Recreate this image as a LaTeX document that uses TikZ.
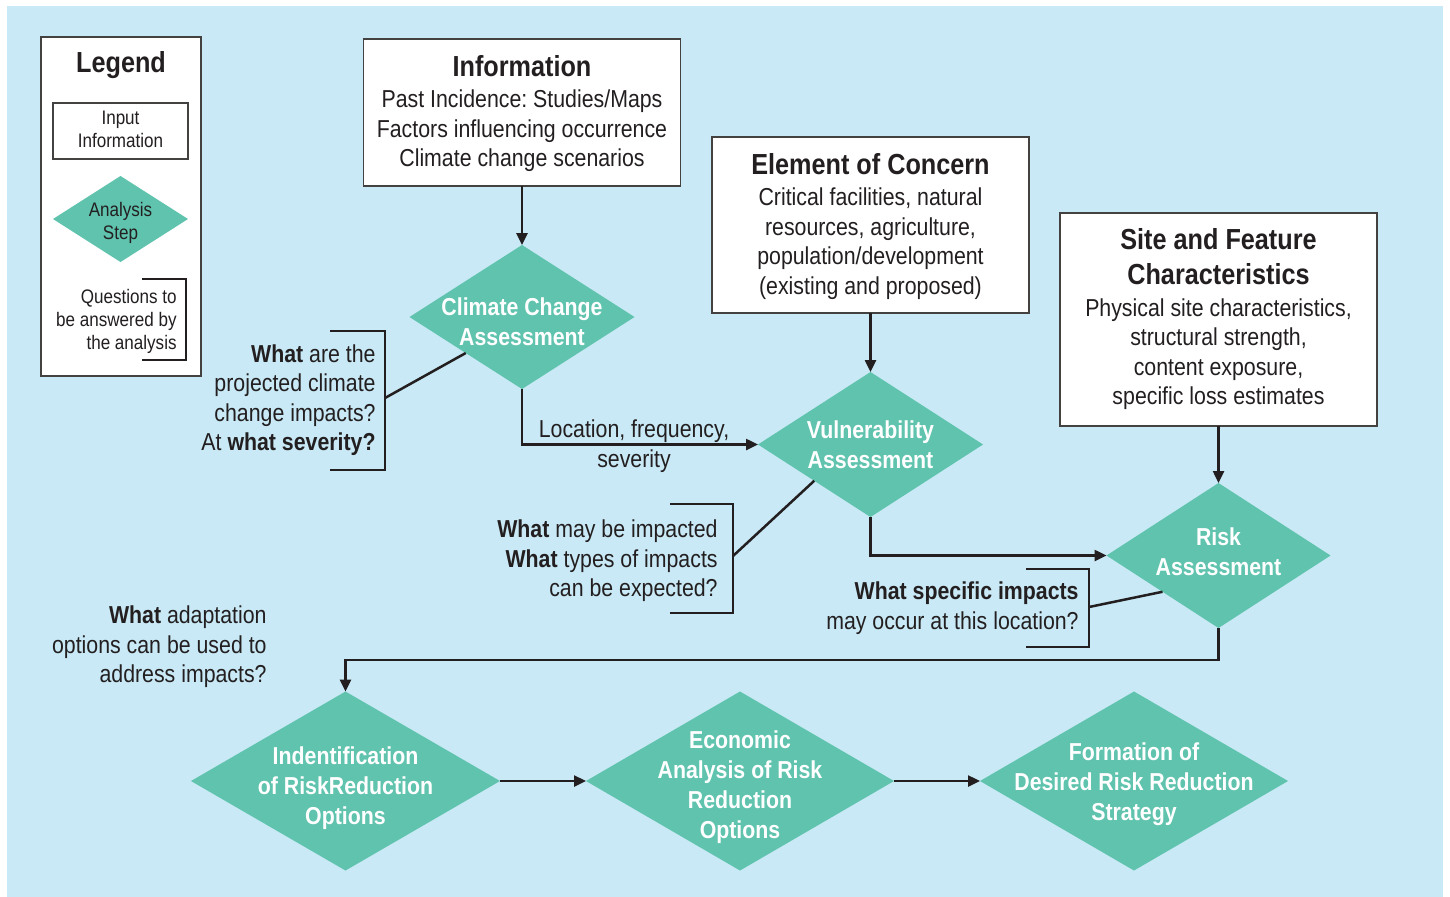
\documentclass[tikz,border=0pt]{standalone}
\usepackage{fontspec}
\setmainfont{Liberation Sans}[FakeStretch=0.87]
\usetikzlibrary{shapes.geometric,arrows.meta,calc}
\definecolor{bgblue}{RGB}{200,233,245}
\definecolor{tealx}{RGB}{95,195,174}
\definecolor{ink}{RGB}{35,31,32}
\frenchspacing
\begin{document}
\begin{tikzpicture}[x=0.5pt,y=-0.5pt,
  inbox/.style={rectangle, draw=ink!85, line width=0.6pt, fill=white, inner sep=0, outer sep=0},
  stepdia/.style={diamond, fill=tealx, inner sep=0, outer sep=0},
  body/.style={font=\fontsize{12.25}{14.75}\selectfont, align=center, inner sep=0, text=ink},
  qtext/.style={font=\fontsize{12.25}{14.75}\selectfont, align=right, inner sep=0, text=ink, anchor=east},
  head/.style={font=\bfseries\fontsize{14.5}{17.5}\selectfont, align=center, inner sep=0, text=ink},
  dtext/.style={text=white, font=\bfseries\fontsize{12.25}{15}\selectfont, align=center, inner sep=0},
  small/.style={font=\fontsize{9.8}{11.5}\selectfont, inner sep=0, text=ink},
  conn/.style={draw=ink, line width=1.25pt},
  arr/.style={conn, -{Triangle[length=6pt,width=5.5pt]}},
  brk/.style={draw=ink, line width=1.25pt}
]
\useasboundingbox (0,0) rectangle (1450,896);
\fill[white] (0,0) rectangle (1450,896);
\fill[bgblue] (7,6) rectangle (1443,904);

% Legend
\node[inbox, minimum width=80pt, minimum height=169.5pt] (legend) at (121,206.5) {};
\node[head] (legtitle) at (121,65) {Legend};
\node[inbox, minimum width=67.5pt, minimum height=28pt] (leginput) at (120.5,131) {};
\node[small, align=center] (leginputt) at (120.5,129) {Input\\Information};
\node[stepdia, minimum width=67.5pt, minimum height=43pt] (legstep) at (120.5,219) {};
\node[small, align=center] (legstept) at (120.5,223) {Analysis\\Step};
\node[small, align=right, anchor=east] (legq) at (177,321) {Questions to\\be answered by\\the analysis};
\draw[draw=ink, line width=0.65pt] (142,279) -| (186,360) -- (142,360);

% Information
\node[inbox, minimum width=158.5pt, minimum height=73.5pt] (info) at (522,112.5) {};
\node[head] (infoh) at (522,66) {Information};
\node[body] (infob) at (522,131) {Past Incidence: Studies/Maps\\Factors influencing occurrence\\Climate change scenarios};

% Climate change assessment
\node[stepdia, minimum width=112.5pt, minimum height=72pt,
  label={[dtext, yshift=-2.5pt]center:Climate Change\\Assessment}] (cca) at (522,317) {};

% Element of concern
\node[inbox, minimum width=158.5pt, minimum height=88pt] (elem) at (870.5,225) {};
\node[head] (elemh) at (870.5,164) {Element of Concern};
\node[body] (elemb) at (870.5,243.5) {Critical facilities, natural\\resources, agriculture,\\population/development\\(existing and proposed)};

% Vulnerability
\node[stepdia, minimum width=112.5pt, minimum height=72.5pt,
  label={[dtext]center:Vulnerability\\Assessment}] (vul) at (870.5,444.5) {};

% Site and feature
\node[inbox, minimum width=158.5pt, minimum height=106.5pt] (site) at (1218.5,319.5) {};
\node[head] (siteh) at (1218.5,257) {Site and Feature\\Characteristics};
\node[body] (siteb) at (1218.5,354) {Physical site characteristics,\\structural strength,\\content exposure,\\specific loss estimates};

% Risk
\node[stepdia, minimum width=112pt, minimum height=72.5pt,
  label={[dtext, yshift=2pt]center:Risk\\Assessment}] (risk) at (1218.5,555.5) {};

% Bottom row
\node[stepdia, minimum width=154.5pt, minimum height=89.5pt,
  label={[dtext, yshift=-3.5pt]center:Indentification\\of RiskReduction\\Options}] (ident) at (345.5,781) {};
\node[stepdia, minimum width=154pt, minimum height=89.5pt,
  label={[dtext, yshift=-3pt]center:Economic\\Analysis of Risk\\Reduction\\Options}] (econ) at (740,781) {};
\node[stepdia, minimum width=154pt, minimum height=89.5pt,
  label={[dtext, yshift=-1.5pt]center:Formation of\\Desired Risk Reduction\\Strategy}] (form) at (1134,781) {};

% Main arrows
\draw[arr] (info.south) -- (cca.north);
\draw[arr] (elem.south) -- (vul.north);
\draw[arr] (site.south) -- (risk.north);
\draw[arr] (cca.south) |- (vul.west);
\draw[arr] (vul.south) |- (risk.west);
\coordinate (turn) at (780,660);
\draw[arr] (risk.south) |- (turn) -| (ident.north);
\draw[arr] (ident.east) -- (econ.west);
\draw[arr] (econ.east) -- (form.west);

% Edge label
\node[body] (loclab) at (634,446) {Location, frequency,\\severity};

% Question 1
\node[qtext] (q1) at (376,400) {{\bfseries What} are the\\projected climate\\change impacts?\\At {\bfseries what severity?}};
\draw[brk] (330,331) -| (385,470) -- (330,470);
\coordinate (q1m) at (385,398);
\draw[conn] (q1m) -- ($(cca.west)!0.5!(cca.south)$);

% Question 2
\node[qtext] (q2) at (718,561) {{\bfseries What} may be impacted\\{\bfseries What} types of impacts\\can be expected?};
\draw[brk] (670,504) -| (733,613) -- (670,613);
\coordinate (q2m) at (733,556);
\draw[conn] (q2m) -- ($(vul.west)!0.5!(vul.south)$);

% Question 3
\node[qtext] (q3) at (1079,608) {{\bfseries What specific impacts}\\may occur at this location?};
\draw[brk] (1026,569) -| (1089,647) -- (1026,647);
\coordinate (q3m) at (1089,607);
\draw[conn] (q3m) -- ($(risk.west)!0.5!(risk.south)$);

% Question 4
\node[qtext] (q4) at (267,647) {{\bfseries What} adaptation\\options can be used to\\address impacts?};
\end{tikzpicture}
\end{document}
